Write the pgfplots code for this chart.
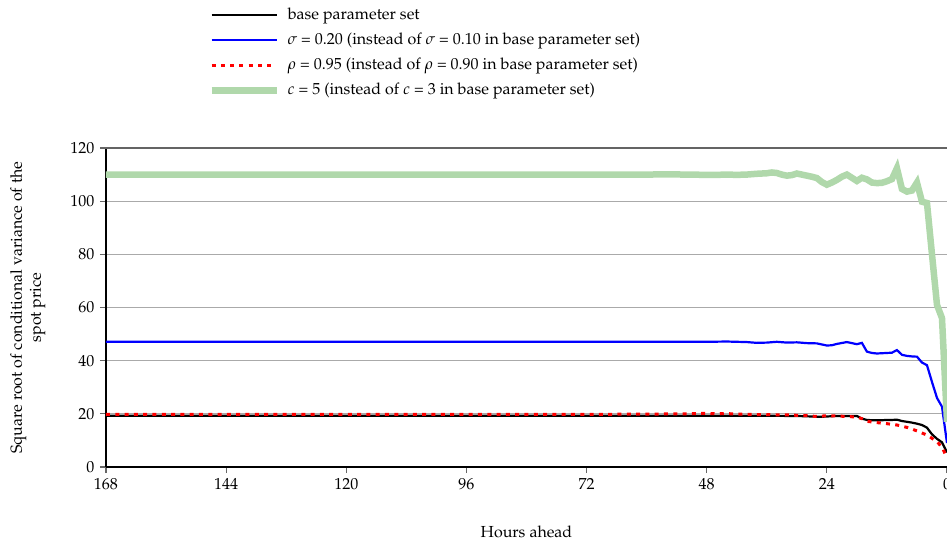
\documentclass[border=0pt]{standalone}
\usepackage[T1]{fontenc}
\usepackage{mathpazo}
\usepackage{pgfplots}
\pgfplotsset{compat=1.18}
\definecolor{cgreen}{RGB}{176,216,171}
\definecolor{cgrid}{RGB}{170,170,170}
\definecolor{ctop}{RGB}{100,100,100}
\definecolor{cblue}{RGB}{0,0,255}
\definecolor{cred}{RGB}{255,0,0}

\pgfplotstableread{
h v
168 19.3
144 19.3
120 19.3
96 19.3
72 19.3
48 19.3
40 19.3
30 19.2
27 19.0
26 18.9
25 18.9
24 19.0
23 19.1
22 19.2
21 19.2
20 19.2
19 19.2
18 19.2
17 18.2
16 17.7
15 17.6
14 17.6
13 17.6
12 17.7
11 17.7
10 17.8
9 17.3
8 17.0
7 16.7
6 16.3
5 15.8
4 14.8
3 12.3
2 10.6
1 9.3
0 5.5
}\base

\pgfplotstableread{
h v
168 47.1
144 47.1
120 47.1
96 47.1
72 47.1
48 47.1
44 47.2
42 47.1
40 47.0
38 46.7
36 46.8
34 47.1
32 46.8
30 46.9
28 46.6
26 46.5
24 45.7
23 45.8
22 46.3
20 47.0
19 46.6
18 46.2
17 46.7
16 43.4
15 42.9
14 42.7
13 42.8
12 42.9
11 43.0
10 44.0
9 42.2
8 41.8
7 41.6
6 41.5
5 39.3
4 38.3
3 32.0
2 26.0
1 22.7
0 9.0
}\sigmatab

\pgfplotstableread{
h v
168 19.8
144 19.8
120 19.8
96 19.8
72 19.8
60 19.9
52 20.0
48 20.2
46 20.0
44 20.1
42 19.9
40 19.8
36 19.7
32 19.6
28 19.3
26 19.0
24 19.3
22 19.2
20 19.0
18 18.8
17 18.2
16 17.2
14 16.7
12 16.3
10 15.8
8 14.9
6 13.6
5 12.8
4 12.0
3 10.8
2 9.5
1 7.5
0 3.5
}\rhotab

\pgfplotstableread{
h v
168 110.0
144 110.0
120 110.0
96 110.0
72 110.0
60 110.0
56 110.1
52 110.0
48 109.9
46 109.9
44 110.0
42 109.9
40 110.0
38 110.3
36 110.5
35 110.8
34 110.6
33 110.0
32 109.6
31 109.8
30 110.4
29 110.0
28 109.6
27 109.2
26 108.7
25 107.2
24 106.2
23 107.0
22 108.0
21 109.2
20 110.0
19 108.8
18 107.6
17 108.8
16 108.2
15 107.0
14 106.8
13 106.9
12 107.5
11 108.3
10 112.4
9 104.6
8 103.6
7 104.0
6 107.0
5 99.8
4 99.3
3 80.0
2 61.0
1 56.0
0 17.0
}\ctab

\begin{document}
\fontsize{16}{19}\selectfont
\begin{tikzpicture}
\begin{axis}[
  scale only axis, width=841pt, height=319pt,
  at={(106pt,75pt)}, anchor=south west,
  x dir=reverse,
  xmin=0, xmax=168, ymin=0, ymax=120,
  xtick={0,24,...,168}, ytick={0,20,...,100},
  extra y ticks={120},
  extra y tick style={major grid style={ctop, line width=1.6pt}},
  axis x line*=bottom, axis y line*=left,
  axis line style={black, line width=1.6pt, -},
  tick align=outside, major tick length=6pt,
  tick style={black!60, line width=1.2pt},
  ymajorgrids, major grid style={cgrid, line width=1.2pt},
  tick label style={font=\fontsize{16}{19}\selectfont},
  label style={font=\fontsize{16}{19}\selectfont},
  xlabel={Hours ahead},
  xlabel style={at={(axis description cs:0.5,-0.2038)}, anchor=center},
  ylabel={Square root of conditional variance of the\\spot price},
  ylabel style={align=center, at={(axis description cs:-0.093,0.5)}, anchor=center},
  legend cell align=left,
  legend image code/.code={\draw[#1] (0pt,0pt) -- (65pt,0pt); \path (73pt,0pt);},
  legend style={draw=none, fill=none, at={(axis description cs:0.1178,1.448)}, anchor=north west,
    row sep=9pt, font=\fontsize{16}{19}\selectfont,
    nodes={text height=12pt, text depth=4pt, inner sep=0pt}},
]
\addplot[black, line width=2.2pt] table[x=h,y=v] {\base};
\addlegendentry{base parameter set}
\addplot[cblue, line width=2.2pt] table[x=h,y=v] {\sigmatab};
\addlegendentry{$\sigma$ = 0.20 (instead of $\sigma$ = 0.10 in base parameter set)}
\addplot[cred, line width=3pt, dash pattern=on 4pt off 5.3pt] table[x=h,y=v] {\rhotab};
\addlegendentry{$\rho$ = 0.95 (instead of $\rho$ = 0.90 in base parameter set)}
\addplot[cgreen, line width=6.5pt] table[x=h,y=v] {\ctab};
\addlegendentry{$c$ = 5 (instead of $c$ = 3 in base parameter set)}
\end{axis}
\pgfresetboundingbox
\path[use as bounding box] (0pt,0pt) rectangle (947pt,542pt);
\end{tikzpicture}
\end{document}
